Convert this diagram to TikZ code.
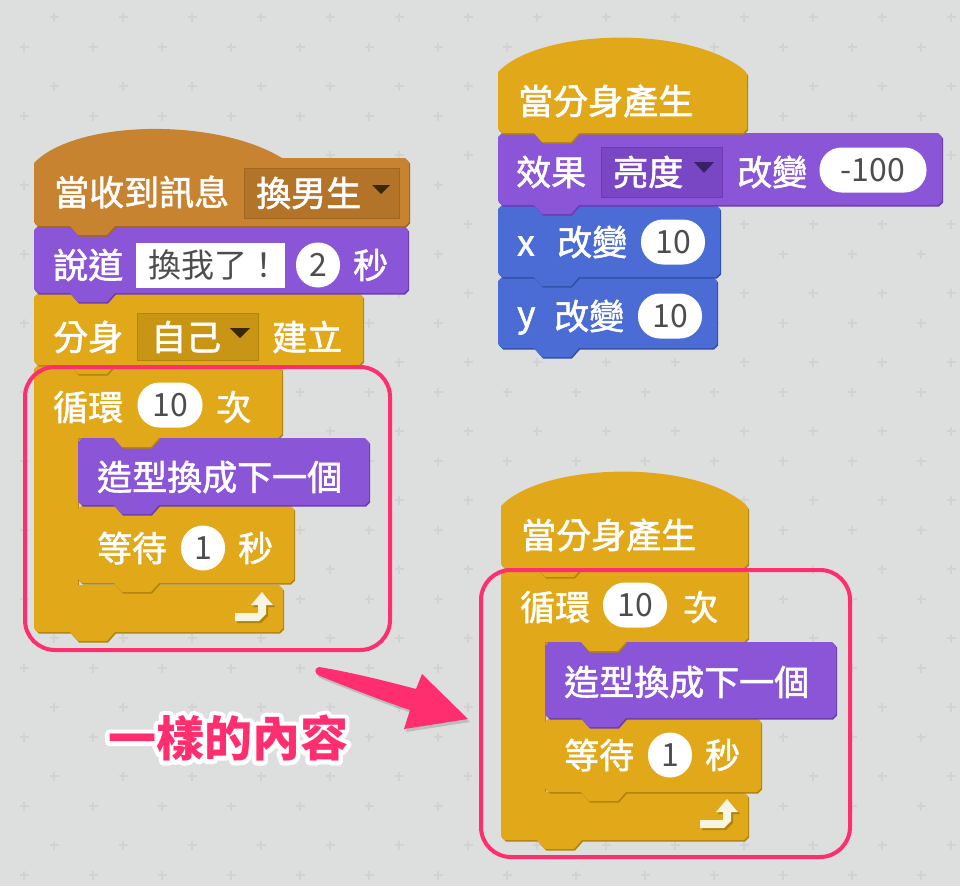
\documentclass[tikz,border=0pt]{standalone}
\usepackage{fontspec}
\setmainfont{Noto Sans CJK TC}
\newfontfamily\blkfont{Noto Sans CJK TC}[FakeBold=1.6]
\usepackage{tikz}
\definecolor{bg}{HTML}{DDDFDF}
\definecolor{plusc}{HTML}{D0D2D3}
\definecolor{evt}{HTML}{C88330}
\definecolor{evtdk}{HTML}{9E661F}
\definecolor{evtdd}{HTML}{B3742A}
\definecolor{lks}{HTML}{8A55D7}
\definecolor{lksdk}{HTML}{6A3CB0}
\definecolor{lksdd}{HTML}{7A47C4}
\definecolor{ctl}{HTML}{E1A91A}
\definecolor{ctldk}{HTML}{AE830E}
\definecolor{ctldd}{HTML}{C89514}
\definecolor{mot}{HTML}{4A6CD4}
\definecolor{motdk}{HTML}{3450A6}
\definecolor{numgray}{HTML}{4D4D4D}
\definecolor{pinkc}{HTML}{FF2E6E}
\definecolor{iconc}{HTML}{F8F4E2}
\definecolor{tridk}{HTML}{3A2608}
\definecolor{trilks}{HTML}{3A1F6A}
% stack block: colour, left, top, right, bottom
\newcommand{\blk}[5]{%
  \fill[#1dk, shift={(1,1.5)}] (#2,#3+4) -- (#2+4,#3) -- (#4-4,#3) -- (#4,#3+4) -- (#4,#5-4) -- (#4-4,#5) -- (#2+4,#5) -- (#2,#5-4) -- cycle;
  \fill[#1] (#2,#3+4) -- (#2+4,#3) -- (#4-4,#3) -- (#4,#3+4) -- (#4,#5-4) -- (#4-4,#5) -- (#2+4,#5) -- (#2,#5-4) -- cycle;
}
% tab under a block: colour, left, bottom
\newcommand{\tabblk}[3]{%
  \fill[#1dk, shift={(1,1.5)}] (#2+36,#3-1) -- (#2+36,#3) -- (#2+44,#3+9) -- (#2+73,#3+9) -- (#2+81,#3) -- (#2+81,#3-1) -- cycle;
  \fill[#1] (#2+36,#3-1) -- (#2+36,#3) -- (#2+44,#3+9) -- (#2+73,#3+9) -- (#2+81,#3) -- (#2+81,#3-1) -- cycle;
}
% clone hat: left, arc y, right, bottom
\newcommand{\cloneblk}[4]{%
  \fill[ctldk, shift={(1,1.5)}] (#1,#4-4) -- (#1,#2) .. controls (#1+42,#2-44) and (#1+192,#2-47) .. (#3-3,#2-2) -- (#3,#2+2) -- (#3,#4-4) -- (#3-4,#4) -- (#1+4,#4) -- cycle;
  \fill[ctl] (#1,#4-4) -- (#1,#2) .. controls (#1+42,#2-44) and (#1+192,#2-47) .. (#3-3,#2-2) -- (#3,#2+2) -- (#3,#4-4) -- (#3-4,#4) -- (#1+4,#4) -- cycle;
}
% repeat block: left, top, arm right, arm bottom, foot top, foot bottom, foot right
\newcommand{\loopblk}[7]{%
  \fill[ctldk, shift={(1,1.5)}] (#1,#2+4) -- (#1+4,#2) -- (#3-4,#2) -- (#3,#2+4) -- (#3,#4-4) -- (#3-4,#4) -- (#1+44,#4) -- (#1+44,#5) -- (#7-4,#5) -- (#7,#5+4) -- (#7,#6-4) -- (#7-4,#6) -- (#1+4,#6) -- (#1,#6-4) -- cycle;
  \fill[ctl] (#1,#2+4) -- (#1+4,#2) -- (#3-4,#2) -- (#3,#2+4) -- (#3,#4-4) -- (#3-4,#4) -- (#1+44,#4) -- (#1+44,#5) -- (#7-4,#5) -- (#7,#5+4) -- (#7,#6-4) -- (#7-4,#6) -- (#1+4,#6) -- (#1,#6-4) -- cycle;
}
% loop arrow icon at its tip
\newcommand{\loopicon}[2]{%
  \fill[ctldk, shift={(#1+2,#2+2)}] (0,0) -- (11,13) -- (4,13) -- (4,22) -- (-3,29) -- (-27,29) -- (-27,21) -- (-4,21) -- (-4,13) -- (-11,13) -- cycle;
  \fill[iconc, shift={(#1,#2)}] (0,0) -- (11,13) -- (4,13) -- (4,22) -- (-3,29) -- (-27,29) -- (-27,21) -- (-4,21) -- (-4,13) -- (-11,13) -- cycle;
}
% white rim round a text
\newcommand{\rim}[1]{\special{pdf:literal direct q 1 Tr 9 w 1 j}#1\special{pdf:literal direct Q}}

\begin{document}
\begin{tikzpicture}[x=1pt, y=-1pt,
    lbl/.style={anchor=west, inner sep=0, text=white, font=\fontsize{35}{40}\selectfont\blkfont},
    dark/.style={anchor=west, inner sep=0, text=numgray, font=\fontsize{33}{40}\selectfont},
    num/.style={fill=white, inner sep=0, text=numgray, rounded corners=22, minimum height=45, font=\fontsize{32}{36}\selectfont},
    anno/.style={inner sep=0, font=\fontsize{48}{50}\selectfont\bfseries}]
\useasboundingbox (0,0) rectangle (960,886);
\fill[bg] (0,0) rectangle (960,886);
\foreach \i in {0,...,13}
  \foreach \j in {0,...,12} {
    \draw[plusc, line width=2] (54+69*\i-4.5, 17+69*\j) -- ++(9,0) (54+69*\i, 17+69*\j-4.5) -- ++(0,9);
    \draw[plusc, line width=2] (24+69*\i-4.5, 47+69*\j) -- ++(9,0) (24+69*\i, 47+69*\j-4.5) -- ++(0,9);
  }
%
% left stack
\loopblk{34}{365}{282}{438}{585}{632}{283}
\blk{ctl}{78}{505}{294}{583}
\blk{lks}{78}{438}{369}{505}
\blk{ctl}{34}{293}{363}{365}
\blk{lks}{34}{226}{408}{293}
\fill[evtdk, shift={(1,1.5)}] (34,163) .. controls (75,120) and (215,117) .. (282,158) -- (405,158) -- (409,162) -- (409,222) -- (405,226) -- (38,226) -- (34,222) -- cycle;
\fill[evt] (34,163) .. controls (75,120) and (215,117) .. (282,158) -- (405,158) -- (409,162) -- (409,222) -- (405,226) -- (38,226) -- (34,222) -- cycle;
\tabblk{evt}{34}{226}
\tabblk{lks}{34}{293}
\tabblk{ctl}{34}{365}
\tabblk{ctl}{78}{438}
\tabblk{lks}{78}{505}
\tabblk{ctl}{78}{583}
\tabblk{ctl}{34}{632}
\loopicon{262}{592}
%
\fill[evtdd, draw=evtdk] (244,168) rectangle (399,218);
\fill[tridk] (372,185) -- (390,185) -- (381,194) -- cycle;
\fill[white] (136,243) rectangle (285,288);
\fill[ctldd, draw=ctldk] (137,313) rectangle (258,360);
\fill[tridk] (230,328) -- (250,328) -- (240,338) -- cycle;
%
\node[lbl] (msg) at (54,192) {當收到訊息};
\node[lbl] (boy) at (256,193) {換男生};
\node[lbl] (say) at (53,265) {說道};
\node[dark] (me) at (148,265) {換我了！};
\node[num, minimum width=44] (two) at (318,265) {2};
\node[lbl] (sec) at (353,265) {秒};
\node[lbl] (clone) at (53,337) {分身};
\node[lbl] (self) at (151,337) {自己};
\node[lbl] (make) at (272,337) {建立};
\node[lbl] (rep) at (53,407) {循環};
\node[num, minimum width=65] (ten) at (170,405) {10};
\node[lbl] (times) at (216,407) {次};
\node[lbl] (next) at (97,477) {造型換成下一個};
\node[lbl] (wait) at (97,548) {等待};
\node[num, minimum width=44] (one) at (203,548) {1};
\node[lbl] (sec2) at (238,548) {秒};
\draw[pinkc, line width=4, rounded corners=30] (25,367) rectangle (390,650);
%
% top right stack
\blk{mot}{498}{277}{717}{348}
\blk{mot}{498}{205}{720}{277}
\blk{lks}{498}{133}{942}{205}
\cloneblk{498}{72}{747}{133}
\tabblk{ctl}{498}{133}
\tabblk{lks}{498}{205}
\tabblk{mot}{498}{277}
\tabblk{mot}{498}{348}
\fill[lksdd, draw=lksdk] (601,147) rectangle (722,197);
\fill[trilks] (694,162) -- (714,162) -- (704,173) -- cycle;
%
\node[lbl] (start) at (518,101) {當分身產生};
\node[lbl] (fx) at (516,172) {效果};
\node[lbl] (bright) at (613,172) {亮度};
\node[lbl] (chg) at (737,172) {改變};
\node[num, minimum width=107] (minus) at (873,170) {-100};
\node[lbl] (xx) at (517,246) {x};
\node[lbl] (chgx) at (557,242) {改變};
\node[num, minimum width=64] (tenx) at (673,242) {10};
\node[lbl] (yy) at (517,321) {y};
\node[lbl] (chgy) at (554,316) {改變};
\node[num, minimum width=64] (teny) at (670,316) {10};
%
% bottom right stack
\loopblk{501}{568}{748}{642}{792}{840}{748}
\blk{ctl}{545}{718}{761}{792}
\blk{lks}{545}{642}{836}{718}
\cloneblk{501}{506}{748}{568}
\tabblk{ctl}{501}{568}
\tabblk{ctl}{545}{642}
\tabblk{lks}{545}{718}
\tabblk{ctl}{545}{792}
\tabblk{ctl}{501}{840}
\loopicon{727}{799}
%
\node[lbl] (start2) at (521,535) {當分身產生};
\node[lbl] (rep2) at (520,607) {循環};
\node[num, minimum width=64] (ten2) at (635,605) {10};
\node[lbl] (times2) at (683,607) {次};
\node[lbl] (next2) at (564,682) {造型換成下一個};
\node[lbl] (wait2) at (564,755) {等待};
\node[num, minimum width=44] (one2) at (670,755) {1};
\node[lbl] (sec3) at (705,755) {秒};
\draw[pinkc, line width=4, rounded corners=30] (481,570) rectangle (850,857);
%
% note and arrow
\fill[black, opacity=0.15, shift={(2,3)}] (319,667) .. controls (350,672) and (390,682) .. (416,689) -- (422,674) -- (468,719) -- (404,729) -- (410,710) .. controls (380,700) and (345,686) .. (320,676) .. controls (314,674) and (314,668) .. (319,667) -- cycle;
\fill[pinkc] (319,667) .. controls (350,672) and (390,682) .. (416,689) -- (422,674) -- (468,719) -- (404,729) -- (410,710) .. controls (380,700) and (345,686) .. (320,676) .. controls (314,674) and (314,668) .. (319,667) -- cycle;
\node[anno, text=white] (rimtext) at (228,738) {\rim{一樣的內容}};
\node[anno, text=pinkc] (same) at (228,738) {一樣的內容};
\end{tikzpicture}
\end{document}
